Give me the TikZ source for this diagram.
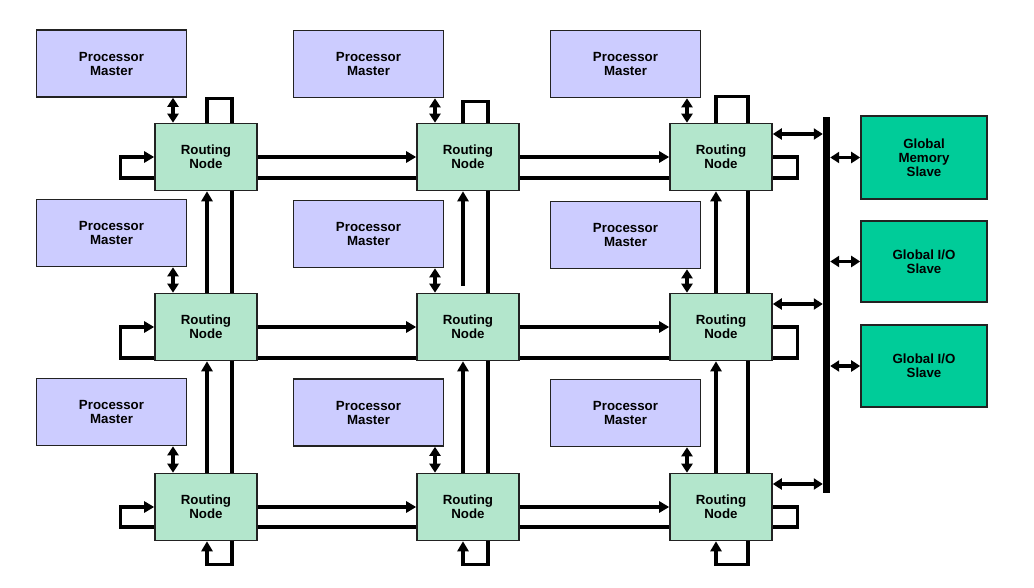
\documentclass[tikz,border=0pt]{standalone}
\usepackage{fontspec}
\setmainfont{Liberation Sans}
\usetikzlibrary{arrows.meta,calc}
\definecolor{pmfill}{HTML}{CCCCFF}
\definecolor{rnfill}{HTML}{B3E6CC}
\definecolor{slfill}{HTML}{00CC99}
\definecolor{edgec}{HTML}{222222}
\begin{document}
\begin{tikzpicture}[x=1pt,y=-1pt,
 box/.style={draw=edgec,line width=1.6pt,align=center,font=\fontsize{13.3}{14}\selectfont\bfseries,inner sep=0pt},
 pm/.style={box,fill=pmfill,minimum width=150pt,minimum height=67pt},
 rn/.style={box,fill=rnfill,minimum width=102pt,minimum height=67pt},
 sl/.style={box,fill=slfill,minimum width=126pt,minimum height=83pt},
 conn/.style={line width=3.3pt},
 tip/.style={-{Triangle[length=10pt,width=11pt]}},
 dbl/.style={{Triangle[length=9pt,width=11pt]}-{Triangle[length=9pt,width=11pt]}}]
\useasboundingbox (0,0) rectangle (1034,587);
% processor masters
\node[pm] (p11) at (111.5,63.5) {Processor\\Master};
\node[pm] (p12) at (368.5,64) {Processor\\Master};
\node[pm] (p13) at (625.5,64) {Processor\\Master};
\node[pm] (p21) at (111.5,233) {Processor\\Master};
\node[pm] (p22) at (368.5,234) {Processor\\Master};
\node[pm] (p23) at (625.5,235) {Processor\\Master};
\node[pm] (p31) at (111.5,412) {Processor\\Master};
\node[pm] (p32) at (368.5,412.5) {Processor\\Master};
\node[pm] (p33) at (625.5,413) {Processor\\Master};
% routing nodes
\foreach \r/\y in {1/157,2/327,3/507}{
  \node[rn] (r\r1) at (206,\y) {Routing\\Node};
  \node[rn] (r\r2) at (468,\y) {Routing\\Node};
  \node[rn] (r\r3) at (721,\y) {Routing\\Node};
}
% slaves and bus
\node[sl] (s1) at (924,157.5) {Global\\Memory\\Slave};
\node[sl,minimum height=81pt] (s2) at (924,261.5) {Global I/O\\Slave};
\node[sl,minimum height=82pt] (s3) at (924,366) {Global I/O\\Slave};
\node[fill=black,inner sep=0pt,minimum width=7pt,minimum height=376pt] (bus) at (826.5,305) {};
% horizontal links
\foreach \r/\lo in {1/21,2/31,3/20}{
  \draw[conn,tip] (r\r1.east) -- (r\r2.west);
  \draw[conn,tip] (r\r2.east) -- (r\r3.west);
  \draw[conn] ($(r\r1.east)+(0,\lo)$) -- ($(r\r2.west)+(0,\lo)$);
  \draw[conn] ($(r\r2.east)+(0,\lo)$) -- ($(r\r3.west)+(0,\lo)$);
  \draw[conn,tip] ($(r\r1.west)+(0,\lo)$) -| ($(r\r1.west)+(-34,0)$) -- (r\r1.west);
  \draw[conn] (r\r3.east) -| ($(r\r3.east)+(25,\lo)$) -- ($(r\r3.east)+(0,\lo)$);
  \coordinate (b\r) at ($(r\r3.east)+(0,-23)$);
  \draw[conn,dbl] (b\r) -- (b\r -| bus.west);
}
% vertical links
\foreach \c/\a/\b/\h in {1/1/26/24,2/-5/20/21,3/-5/27/26}{
  \draw[conn,tip] ($(r3\c.north)+(\a,0)$) -- ($(r2\c.south)+(\a,0)$);
  \draw[conn] ($(r3\c.north)+(\b,0)$) -- ($(r2\c.south)+(\b,0)$);
  \draw[conn] ($(r2\c.north)+(\b,0)$) -- ($(r1\c.south)+(\b,0)$);
  \draw[conn] ($(r1\c.north)+(\a,0)$) |- ($(r1\c.north)+(\b,-\h)$) -- ($(r1\c.north)+(\b,0)$);
  \draw[conn,tip] ($(r3\c.south)+(\b,0)$) |- ($(r3\c.south)+(\a,23)$) -- ($(r3\c.south)+(\a,0)$);
}
\draw[conn,tip] ($(r21.north)+(1,0)$) -- ($(r11.south)+(1,0)$);
\draw[conn,tip] ($(r22.north)+(-5,-7)$) -- ($(r12.south)+(-5,0)$);
\draw[conn,tip] ($(r23.north)+(-5,0)$) -- ($(r13.south)+(-5,0)$);
% processor <-> routing
\foreach \r in {1,2,3}{
  \foreach \c/\dx in {1/-33,2/-33,3/-34}{
    \coordinate (d\r\c) at ($(r\r\c.north)+(\dx,0)$);
    \draw[conn,dbl] (d\r\c |- p\r\c.south) -- (d\r\c);
  }
}
% bus <-> slaves
\draw[conn,dbl] (s1.west -| bus.east) -- (s1.west);
\draw[conn,dbl] (s2.west -| bus.east) -- (s2.west);
\draw[conn,dbl] (s3.west -| bus.east) -- (s3.west);
\end{tikzpicture}
\end{document}
